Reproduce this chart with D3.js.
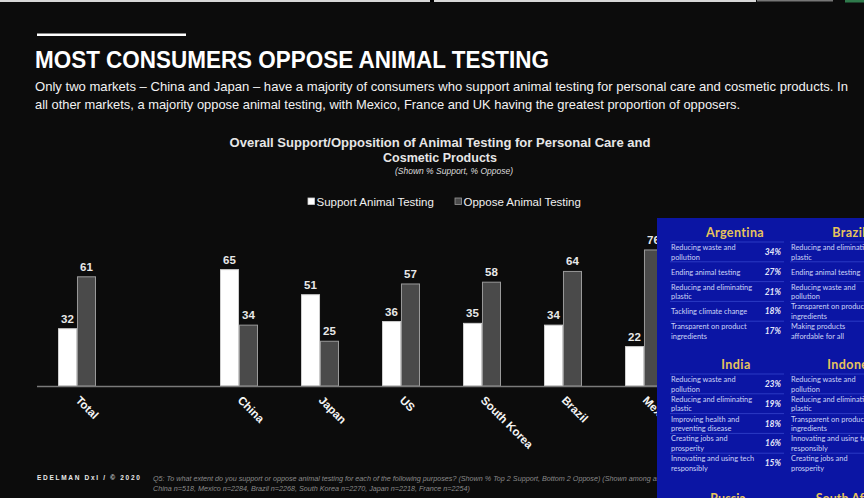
<!DOCTYPE html>
<html>
<head>
<meta charset="utf-8">
<script src="https://cdn.jsdelivr.net/npm/d3@7"></script>
<style>
  body { margin: 0; background: #0c0c0c; }
  svg { display: block; }
</style>
</head>
<body>
<script>
// datos del grafico
var categories = ["Total", "China", "Japan", "US", "South Korea", "Brazil", "Mexico"];
var supportValues = [32, 65, 51, 36, 35, 34, 22];
var opposeValues = [61, 34, 25, 57, 58, 64, 76];
var seriesNames = ["Support Animal Testing", "Oppose Animal Testing"];

// tabla azul que tapa la parte derecha
var argentinaItems = ["Reducing waste and\npollution", "Ending animal testing", "Reducing and eliminating\nplastic", "Tackling climate change", "Transparent on product\ningredients"];
var argentinaPct = ["34%", "27%", "21%", "18%", "17%"];
var brazilItems = ["Reducing and eliminating\nplastic", "Ending animal testing", "Reducing waste and\npollution", "Transparent on product\ningredients", "Making products\naffordable for all"];
var indiaItems = ["Reducing waste and\npollution", "Reducing and eliminating\nplastic", "Improving health and\npreventing disease", "Creating jobs and\nprosperity", "Innovating and using tech\nresponsibly"];
var indiaPct = ["23%", "19%", "18%", "16%", "15%"];
var indonesiaItems = ["Reducing waste and\npollution", "Reducing and eliminating\nplastic", "Transparent on product\ningredients", "Innovating and using tech\nresponsibly", "Creating jobs and\nprosperity"];

var W = 864, H = 498;
var svg = d3.select("body").append("svg").attr("width", W).attr("height", H);
svg.append("rect").attr("width", W).attr("height", H).attr("fill", "#0c0c0c");

// linea de arriba (resto de la diapositiva anterior)
svg.append("rect").attr("x", 0).attr("y", 0).attr("width", 756).attr("height", 2).attr("fill", "#d8d8d8");
svg.append("rect").attr("x", 430).attr("y", 0).attr("width", 4).attr("height", 2).attr("fill", "#000");
svg.append("rect").attr("x", 757).attr("y", 0).attr("width", 76).attr("height", 1.5).attr("fill", "#777");
svg.append("rect").attr("x", 845).attr("y", 0).attr("width", 19).attr("height", 2.5).attr("fill", "#2f7a4c");

// cabecera
svg.append("rect").attr("x", 37).attr("y", 33.5).attr("width", 149).attr("height", 2.5).attr("fill", "#fff");
svg.append("text").attr("x", 35).attr("y", 68)
  .attr("font-family", "'Liberation Sans Narrow', 'Arial Narrow', 'Liberation Sans', sans-serif")
  .attr("font-weight", "bold").attr("font-size", 24).attr("fill", "#fff")
  .attr("textLength", 514).attr("lengthAdjust", "spacingAndGlyphs")
  .text("MOST CONSUMERS OPPOSE ANIMAL TESTING");
var sub = [
  ["Only two markets \u2013 China and Japan \u2013 have a majority of consumers who support animal testing for personal care and cosmetic products. In", 813],
  ["all other markets, a majority oppose animal testing, with Mexico, France and UK having the greatest proportion of opposers.", 705]
];
sub.forEach(function(s, i) {
  svg.append("text").attr("x", 35).attr("y", 91 + i * 18)
    .attr("font-family", "'Liberation Sans', Arial, sans-serif")
    .attr("font-size", 13).attr("fill", "#f2f2f2")
    .attr("textLength", s[1]).attr("lengthAdjust", "spacingAndGlyphs")
    .text(s[0]);
});

// titulo del grafico
var cx = 440;
svg.append("text").attr("x", cx).attr("y", 147).attr("text-anchor", "middle")
  .attr("font-family", "'Liberation Sans', Arial, sans-serif").attr("font-weight", "bold")
  .attr("font-size", 12.5).attr("fill", "#e6e6e6")
  .attr("textLength", 421).attr("lengthAdjust", "spacingAndGlyphs")
  .text("Overall Support/Opposition of Animal Testing for Personal Care and");
svg.append("text").attr("x", cx).attr("y", 162).attr("text-anchor", "middle")
  .attr("font-family", "'Liberation Sans', Arial, sans-serif").attr("font-weight", "bold")
  .attr("font-size", 12.5).attr("fill", "#e6e6e6")
  .text("Cosmetic Products");
svg.append("text").attr("x", cx + 14).attr("y", 174).attr("text-anchor", "middle")
  .attr("font-family", "'Liberation Sans', Arial, sans-serif").attr("font-style", "italic")
  .attr("font-size", 8.5).attr("fill", "#dcdcdc")
  .text("(Shown % Support, % Oppose)");

// leyenda
var legX = [308, 455];
var fills = ["#ffffff", "#4a4a4a"];
var strokes = ["#cfcfcf", "#9a9a9a"];
seriesNames.forEach(function(n, i) {
  svg.append("rect").attr("x", legX[i]).attr("y", 198).attr("width", 6.5).attr("height", 6.5)
    .attr("fill", fills[i]).attr("stroke", strokes[i]).attr("stroke-width", 0.8);
  svg.append("text").attr("x", legX[i] + 8.5).attr("y", 206)
    .attr("font-family", "'Liberation Sans', Arial, sans-serif").attr("font-size", 11.5)
    .attr("fill", "#f0f0f0").text(n);
});

// escalas
var gapKey = "__gap__";
var slots = [categories[0], gapKey].concat(categories.slice(1));
var x = d3.scaleBand().domain(slots).range([36.5, 36.5 + 81 * slots.length]);
var xInner = d3.scaleBand().domain([0, 1]).range([0, 37]).paddingInner(0.05);
var y = d3.scaleLinear().domain([0, 100]).range([386, 207]);
var groupOffset = (x.bandwidth() - 37) / 2;

var rows = categories.map(function(c, i) {
  return { cat: c, vals: [supportValues[i], opposeValues[i]] };
});

var groups = svg.selectAll("g.grp").data(rows).enter().append("g")
  .attr("class", "grp")
  .attr("transform", function(d) { return "translate(" + (x(d.cat) + groupOffset) + ",0)"; });

groups.selectAll("rect").data(function(d) { return d.vals; }).enter().append("rect")
  .attr("x", function(d, i) { return xInner(i); })
  .attr("y", function(d) { return y(d); })
  .attr("width", xInner.bandwidth())
  .attr("height", function(d) { return y(0) - y(d); })
  .attr("fill", function(d, i) { return fills[i]; })
  .attr("stroke", function(d, i) { return strokes[i]; })
  .attr("stroke-width", 1);

groups.selectAll("text").data(function(d) { return d.vals; }).enter().append("text")
  .attr("x", function(d, i) { return xInner(i) + xInner.bandwidth() / 2; })
  .attr("y", function(d) { return y(d) - 6; })
  .attr("text-anchor", "middle")
  .attr("font-family", "'Liberation Sans', Arial, sans-serif").attr("font-weight", "bold")
  .attr("font-size", 11.5).attr("fill", "#e8e8e8")
  .text(function(d) { return d; });

// eje x
var axis = svg.append("g").attr("transform", "translate(0," + y(0) + ")")
  .call(d3.axisBottom(x).tickSize(0).tickSizeOuter(0)
    .tickFormat(function(d) { return d === gapKey ? "" : d; }));
axis.select(".domain").attr("stroke", "#7a7a7a").attr("stroke-width", 1.5);
axis.selectAll(".tick text")
  .attr("font-family", "'Liberation Sans', Arial, sans-serif").attr("font-weight", "bold")
  .attr("font-size", 11.5).attr("fill", "#f4f4f4")
  .attr("text-anchor", "start").attr("dy", 0).attr("y", 0)
  .attr("transform", "translate(-2,15) rotate(45)");

// pie
svg.append("text").attr("x", 37).attr("y", 480)
  .attr("font-family", "'Liberation Sans', Arial, sans-serif").attr("font-weight", "bold")
  .attr("font-size", 6.5).attr("letter-spacing", 1.7).attr("fill", "#e8e8e8")
  .text("EDELMAN DxI / \u00a9 2020");
var notes = [
  "Q5: To what extent do you support or oppose animal testing for each of the following purposes? (Shown % Top 2 Support, Bottom 2 Oppose) (Shown among all respondents)",
  "China n=518, Mexico n=2284, Brazil n=2268, South Korea n=2270, Japan n=2218, France n=2254)"
];
notes.forEach(function(t, i) {
  svg.append("text").attr("x", 153).attr("y", 481 + i * 9.5)
    .attr("font-family", "'Liberation Sans Narrow', 'Liberation Sans', Arial, sans-serif")
    .attr("font-style", "italic").attr("font-size", 7.2).attr("fill", "#8a8a8a")
    .text(t);
});

// panel azul superpuesto
var ov = svg.append("g");
ov.append("rect").attr("x", 657).attr("y", 218).attr("width", W - 657).attr("height", H - 218)
  .attr("fill", "#0b15a4");

function block(header, items, pcts, x0, hx, hy) {
  ov.append("text").attr("x", hx).attr("y", hy).attr("text-anchor", "middle")
    .attr("font-family", "Lato, 'Open Sans', sans-serif").attr("font-weight", "bold")
    .attr("font-size", 12.5).attr("letter-spacing", 0.4).attr("fill", "#e7c45c").text(header);
  items.forEach(function(it, i) {
    var cy = hy + 15 + i * 19.8;
    ov.append("line").attr("x1", x0 - 1).attr("x2", x0 + 113)
      .attr("y1", cy - 10).attr("y2", cy - 10)
      .attr("stroke", "#3344cc").attr("stroke-width", 0.8);
    var lines = it.split("\n");
    lines.forEach(function(l, j) {
      var by = lines.length === 1 ? cy + 3 : cy - 2 + j * 9.5;
      ov.append("text").attr("x", x0).attr("y", by)
        .attr("font-family", "Lato, 'Open Sans', sans-serif").attr("font-size", 7.4)
        .attr("fill", "#ccd4f6").text(l);
    });
    if (pcts) {
      ov.append("text").attr("x", x0 + 110).attr("y", cy + 3).attr("text-anchor", "end")
        .attr("font-family", "Lato, 'Open Sans', sans-serif").attr("font-weight", "bold")
        .attr("font-style", "italic").attr("font-size", 8.5)
        .attr("fill", "#e4e8fa").text(pcts[i]);
    }
  });
}
block("Argentina", argentinaItems, argentinaPct, 671, 735, 237);
block("Brazil", brazilItems, null, 791, 849, 237);
block("India", indiaItems, indiaPct, 671, 736, 369);
block("Indonesia", indonesiaItems, null, 791, 856, 369);
ov.append("text").attr("x", 728).attr("y", 503).attr("text-anchor", "middle")
  .attr("font-family", "Lato, 'Open Sans', sans-serif").attr("font-weight", "bold")
  .attr("font-size", 12.5).attr("fill", "#e7c45c").text("Russia");
ov.append("text").attr("x", 850).attr("y", 503).attr("text-anchor", "middle")
  .attr("font-family", "Lato, 'Open Sans', sans-serif").attr("font-weight", "bold")
  .attr("font-size", 12.5).attr("fill", "#e7c45c").text("South Africa");
</script>
</body>
</html>
